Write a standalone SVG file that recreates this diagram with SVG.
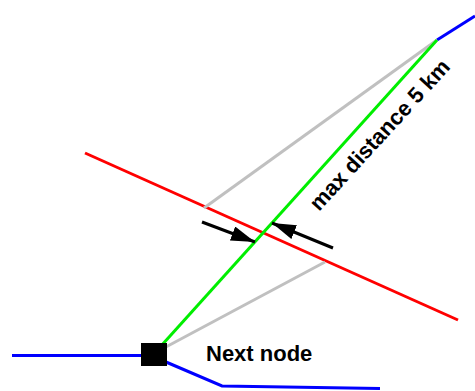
<svg xmlns="http://www.w3.org/2000/svg" width="475" height="391" viewBox="0 0 475 391">
<style>
.ln{fill:none;stroke-width:3;stroke-linecap:butt;stroke-linejoin:miter}
.blue{stroke:#0000ff}
.red{stroke:#ff0000}
.green{stroke:#00ee00}
.gray{stroke:#c0c0c0}
.arr{stroke:#000;stroke-width:3;fill:none}
.lbl{font-family:"Liberation Sans",Arial,sans-serif;font-weight:bold;font-size:22px;fill:#000}
</style>
<defs>
<marker id="ah" viewBox="0 0 24 15" refX="24" refY="7.5" markerWidth="24" markerHeight="15" markerUnits="userSpaceOnUse" orient="auto">
<path d="M0,0 L24,7.5 L0,15 Z" fill="#000"/>
</marker>
</defs>
<rect width="475" height="391" fill="#fff"/>
<g id="connectors">
<polyline class="ln blue" points="12,355.5 141,355.5"/>
<polyline class="ln blue" points="166,362 222,386 380,388.5"/>
<polyline class="ln blue" points="437,40 475,16"/>
<line class="ln red" x1="85" y1="153" x2="458" y2="320"/>
<line class="ln gray" x1="437" y1="40" x2="204" y2="208"/>
<line class="ln gray" x1="164" y1="348" x2="325" y2="262"/>
<line class="ln green" x1="437" y1="40" x2="161" y2="346"/>
<line class="arr" x1="202" y1="222" x2="255" y2="242" marker-end="url(#ah)"/>
<line class="arr" x1="333" y1="248" x2="272" y2="223" marker-end="url(#ah)"/>
<text class="lbl" transform="translate(319,212) rotate(-47.5)">max distance 5 km</text>
</g>
<g id="next-node">
<rect x="141" y="343" width="26" height="23" fill="#000"/>
<text class="lbl" x="206" y="361">Next node</text>
</g>
</svg>
